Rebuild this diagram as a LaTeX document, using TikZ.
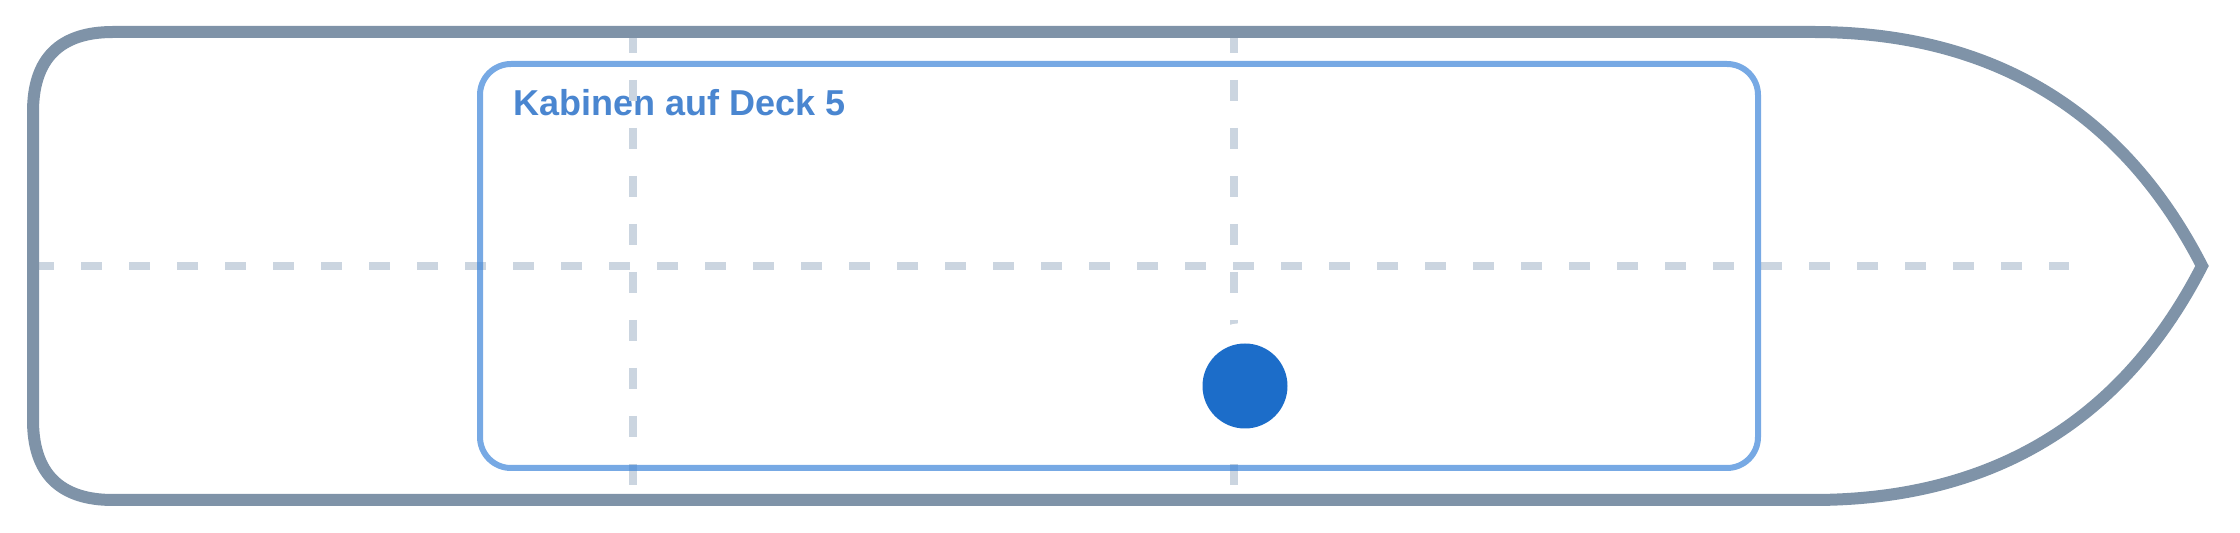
\documentclass[tikz,border=0pt]{standalone}
\usepackage{fontspec}
\newfontfamily\decksans{Liberation Sans}
\usetikzlibrary{positioning}
\definecolor{hullgray}{HTML}{7F93A8}
\definecolor{cabinblue}{HTML}{3D85D8}
\definecolor{labelblue}{HTML}{4A86D0}
\definecolor{markblue}{HTML}{1C6DC9}
\definecolor{gridgray}{HTML}{CBD5E0}
\begin{document}
\begin{tikzpicture}[x=0.5pt,y=-0.5pt,
  hull/.style={draw=hullgray,line width=6pt,line join=miter},
  cabin/.style={draw=cabinblue,draw opacity=0.7,line width=3pt,rounded corners=15.5pt},
  axisline/.style={draw=gridgray,line width=4pt,dash pattern=on 10.5pt off 13.5pt}]
\useasboundingbox (0,0) rectangle (2240,533);
\node[font=\decksans\bfseries\fontsize{18}{20}\selectfont,text=labelblue,anchor=base west,inner sep=0] (title) at (513,116) {Kabinen auf Deck 5};
\coordinate (stern) at (33,266);
\coordinate (bowend) at (2069,266);
\coordinate (frameAtop) at (633,32);
\coordinate (frameAbot) at (633,500);
\coordinate (frameBtop) at (1234,32);
\coordinate (frameBbot) at (1234,500);
\coordinate (bowtip) at (2202,266);
\draw[axisline] (stern) -- (bowend);
\draw[axisline] (frameAtop) -- (frameAbot);
\draw[axisline] (frameBtop) -- (frameBbot);
\draw[hull] (1813,500) .. controls (1991,500) and (2122,422) .. (bowtip)
  .. controls (2122,110) and (1991,32) .. (1813,32) -- (113,32)
  .. controls (59.7,32) and (33,58.7) .. (33,112) -- (33,420)
  .. controls (33,473.3) and (59.7,500) .. (113,500) -- cycle;
\draw[cabin] (480,64) rectangle (1758,468);
\fill[white] (1245,386) circle[radius=31.5pt];
\node[circle,fill=markblue,minimum size=42.5pt,inner sep=0] (cabinmark) at (1245,386) {};
\end{tikzpicture}
\end{document}
